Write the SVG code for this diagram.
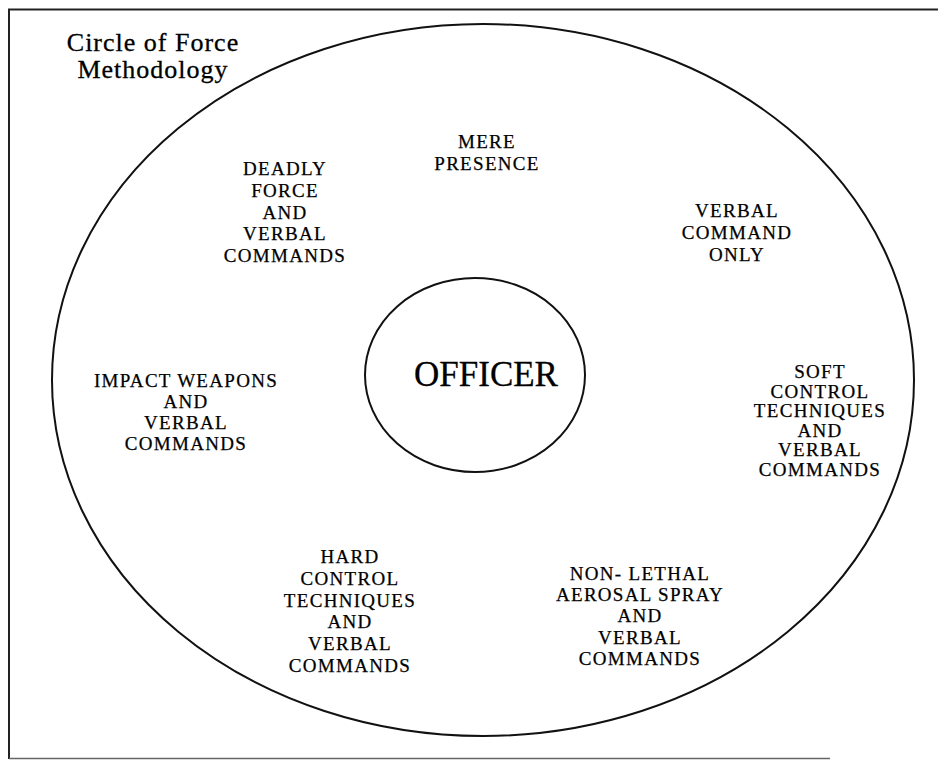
<svg xmlns="http://www.w3.org/2000/svg" width="938" height="760" viewBox="0 0 938 760">
<style>
.lbl{font-family:"Liberation Serif","Times New Roman",serif;font-size:19px;letter-spacing:1.3px;text-anchor:middle;fill:#000;stroke:#000;stroke-width:0.25}
.title{font-family:"Liberation Serif","Times New Roman",serif;font-size:26px;letter-spacing:1px;text-anchor:middle;fill:#000;stroke:#000;stroke-width:0.3}
.ring{fill:none;stroke:#111;stroke-width:2}
</style>
<rect x="0" y="0" width="938" height="760" fill="#fff"/>
<g id="frame">
<path d="M9,759 L9,9.5 L938,9.5" fill="none" stroke="#222" stroke-width="2"/>
<path d="M9,758.5 L830,758.5" fill="none" stroke="#666" stroke-width="1.5"/>
</g>
<g id="title">
<text class="title" x="153" y="51">Circle of Force</text>
<text class="title" x="153" y="78">Methodology</text>
</g>
<g id="outer-circle">
<ellipse class="ring" cx="483" cy="380" rx="431" ry="356"/>
</g>
<g id="officer">
<ellipse class="ring" cx="475" cy="375" rx="110" ry="97" stroke-width="1.6"/>
<text x="486" y="386" font-family="'Liberation Serif','Times New Roman',serif" font-size="35" text-anchor="middle" fill="#000" stroke="#000" stroke-width="0.3">OFFICER</text>
</g>
<g id="mere-presence">
<text class="lbl" x="487" y="148">MERE</text>
<text class="lbl" x="487" y="170">PRESENCE</text>
</g>
<g id="verbal-command">
<text class="lbl" x="737" y="217">VERBAL</text>
<text class="lbl" x="737" y="239">COMMAND</text>
<text class="lbl" x="737" y="261">ONLY</text>
</g>
<g id="soft-control">
<text class="lbl" x="820" y="378">SOFT</text>
<text class="lbl" x="820" y="397.5">CONTROL</text>
<text class="lbl" x="820" y="417">TECHNIQUES</text>
<text class="lbl" x="820" y="436.5">AND</text>
<text class="lbl" x="820" y="456">VERBAL</text>
<text class="lbl" x="820" y="475.5">COMMANDS</text>
</g>
<g id="non-lethal">
<text class="lbl" x="640" y="580">NON- LETHAL</text>
<text class="lbl" x="640" y="601">AEROSAL SPRAY</text>
<text class="lbl" x="640" y="622">AND</text>
<text class="lbl" x="640" y="644">VERBAL</text>
<text class="lbl" x="640" y="665">COMMANDS</text>
</g>
<g id="hard-control">
<text class="lbl" x="350" y="563">HARD</text>
<text class="lbl" x="350" y="585">CONTROL</text>
<text class="lbl" x="350" y="607">TECHNIQUES</text>
<text class="lbl" x="350" y="628">AND</text>
<text class="lbl" x="350" y="650">VERBAL</text>
<text class="lbl" x="350" y="672">COMMANDS</text>
</g>
<g id="impact-weapons">
<text class="lbl" x="186" y="387">IMPACT WEAPONS</text>
<text class="lbl" x="186" y="408">AND</text>
<text class="lbl" x="186" y="429">VERBAL</text>
<text class="lbl" x="186" y="450">COMMANDS</text>
</g>
<g id="deadly-force">
<text class="lbl" x="285" y="175">DEADLY</text>
<text class="lbl" x="285" y="197">FORCE</text>
<text class="lbl" x="285" y="219">AND</text>
<text class="lbl" x="285" y="240">VERBAL</text>
<text class="lbl" x="285" y="262">COMMANDS</text>
</g>
<g id="connectors"></g>
</svg>
